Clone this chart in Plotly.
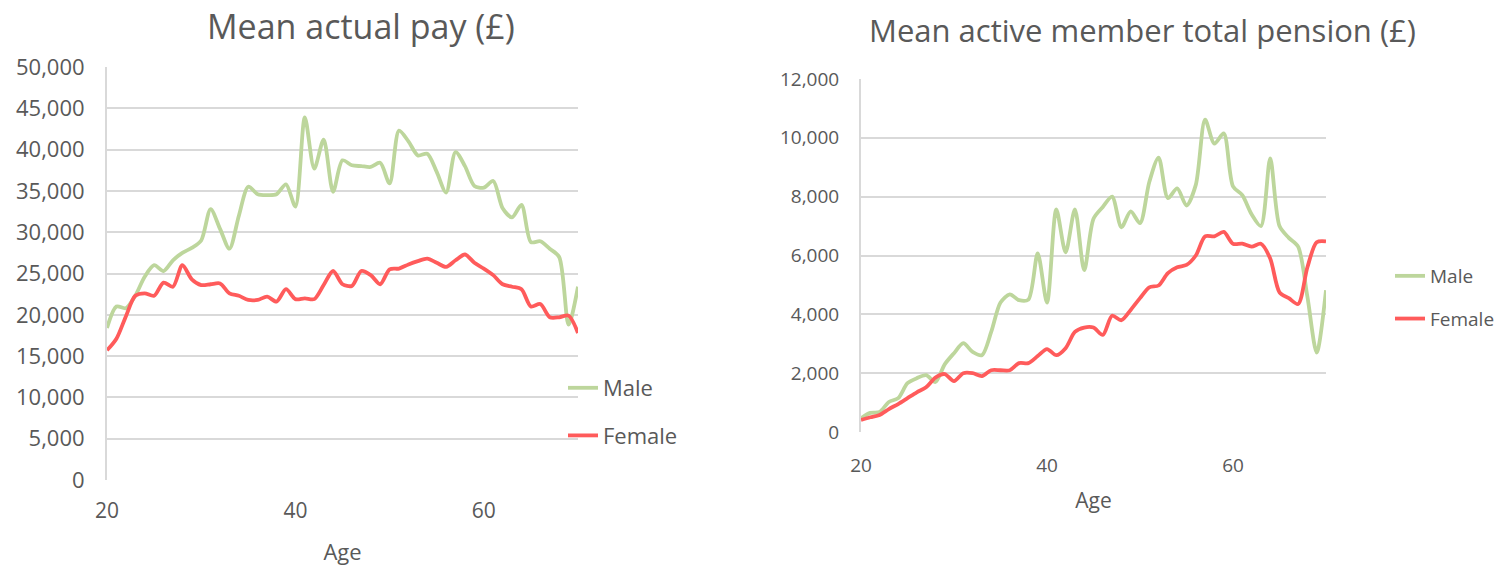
import plotly.graph_objects as go

ages = list(range(20, 71))

pay_male = [18400, 21000, 20800, 22300, 24600, 26000, 25300, 26600, 27500, 28100,
            29000, 32800, 30400, 28000, 32000, 35500, 34600, 34500, 34600, 35800,
            33100, 43900, 37700, 41200, 34900, 38700, 38100, 38000, 37900, 38400,
            35900, 42300, 41000, 39300, 39500, 37300, 34800, 39700, 38000, 35600,
            35400, 36200, 32900, 31800, 33300, 28800, 28900, 28000, 27000, 18800,
            23400]
pay_female = [15700, 17100, 19800, 22300, 22600, 22300, 23900, 23400, 26000, 24300,
              23600, 23700, 23800, 22600, 22300, 21800, 21800, 22200, 21600, 23100,
              21900, 22000, 21900, 23600, 25300, 23700, 23500, 25300, 24800, 23700,
              25500, 25600, 26100, 26500, 26800, 26300, 25800, 26600, 27300, 26300,
              25600, 24800, 23700, 23400, 23100, 21000, 21300, 19700, 19700, 19900,
              17800]
pen_male = [470, 650, 680, 1020, 1150, 1660, 1830, 1930, 1700, 2300,
            2680, 3020, 2720, 2610, 3400, 4400, 4680, 4480, 4500, 6070,
            4400, 7570, 6110, 7570, 5500, 7250, 7650, 8000, 6960, 7500,
            7100, 8500, 9330, 7950, 8280, 7700, 8400, 10620, 9800, 10150,
            8350, 8050, 7400, 7000, 9300, 7000, 6600, 6300, 4600, 2700,
            4820]
pen_female = [410, 500, 580, 780, 950, 1150, 1350, 1520, 1850, 1970,
              1730, 2000, 2000, 1900, 2100, 2100, 2100, 2340, 2340, 2580,
              2820, 2610, 2850, 3400, 3550, 3550, 3300, 3950, 3800, 4150,
              4550, 4920, 4980, 5400, 5600, 5680, 6000, 6650, 6650, 6800,
              6400, 6400, 6300, 6400, 5900, 4750, 4550, 4350, 5600, 6450,
              6480]

series_names = ["Male", "Female"]
titles = ["Mean actual pay (£)", "Mean active member total pension (£)"]
x_title = "Age"

GREEN = "#BDD69C"
RED = "#FF5B5B"
TXT = "#595959"
GRID = "#D9D9D9"
FONT = "Open Sans"
W, H = 1497, 566

fig = go.Figure()
for vals, name, col in [(pay_male, series_names[0], GREEN), (pay_female, series_names[1], RED)]:
    fig.add_trace(go.Scatter(x=ages, y=vals, name=name, mode="lines",
                             line=dict(color=col, width=3.8, shape="spline", smoothing=0.8),
                             xaxis="x", yaxis="y", legend="legend", legendgroup="a" + name))
for vals, name, col in [(pen_male, series_names[0], GREEN), (pen_female, series_names[1], RED)]:
    fig.add_trace(go.Scatter(x=ages, y=vals, name=name, mode="lines",
                             line=dict(color=col, width=3.8, shape="spline", smoothing=0.8),
                             xaxis="x2", yaxis="y2", legend="legend2", legendgroup="b" + name))

def px(x):
    return x / W

def py(y):
    return (H - y) / H

def xax(size, tsize, standoff, tstandoff):
    return dict(range=[20, 70], dtick=20, tick0=20, showgrid=False, zeroline=False,
                showline=False, ticks="", ticklabelstandoff=standoff,
                tickfont=dict(size=size, color=TXT, family=FONT),
                title=dict(text=x_title, standoff=tstandoff,
                           font=dict(size=tsize, color=TXT, family=FONT)))

def yax(size, standoff):
    return dict(showgrid=True, gridcolor=GRID, gridwidth=2, zeroline=False,
                showline=True, linecolor=GRID, linewidth=2, ticks="", tickformat=",",
                tickfont=dict(size=size, color=TXT, family=FONT), ticklabelstandoff=standoff)

fig.update_layout(
    width=W, height=H, margin=dict(l=0, r=0, t=0, b=0, autoexpand=False),
    paper_bgcolor="white", plot_bgcolor="white",
    font=dict(family=FONT, color=TXT),
    xaxis=dict(domain=[px(107), px(578)], anchor="y", **xax(21, 22, 16, 24)),
    yaxis=dict(domain=[py(480), py(67)], anchor="x", range=[0, 50000], dtick=5000, **yax(22, 16)),
    xaxis2=dict(domain=[px(861), px(1326)], anchor="y2", **xax(19, 21, 20, 16)),
    yaxis2=dict(domain=[py(432), py(79)], anchor="x2", range=[0, 12000], dtick=2000, **yax(19, 16)),
    legend=dict(x=px(563), y=py(367), xanchor="left", yanchor="top",
                font=dict(size=22, color=TXT, family=FONT), tracegroupgap=16,
                bgcolor="rgba(0,0,0,0)"),
    legend2=dict(x=px(1390), y=py(257), xanchor="left", yanchor="top",
                 font=dict(size=19, color=TXT, family=FONT), tracegroupgap=15,
                 bgcolor="rgba(0,0,0,0)"),
    annotations=[
        dict(text=titles[0], x=px(361), y=py(26), xref="paper", yref="paper",
             xanchor="center", yanchor="middle",
             showarrow=False, font=dict(size=34, color=TXT, family=FONT)),
        dict(text=titles[1], x=px(1142), y=py(30), xref="paper", yref="paper",
             xanchor="center", yanchor="middle",
             showarrow=False, font=dict(size=31, color=TXT, family=FONT)),
    ],
)

fig.write_html("out.html", config={"displayModeBar": False},
               post_script="document.body.style.margin='0';")
